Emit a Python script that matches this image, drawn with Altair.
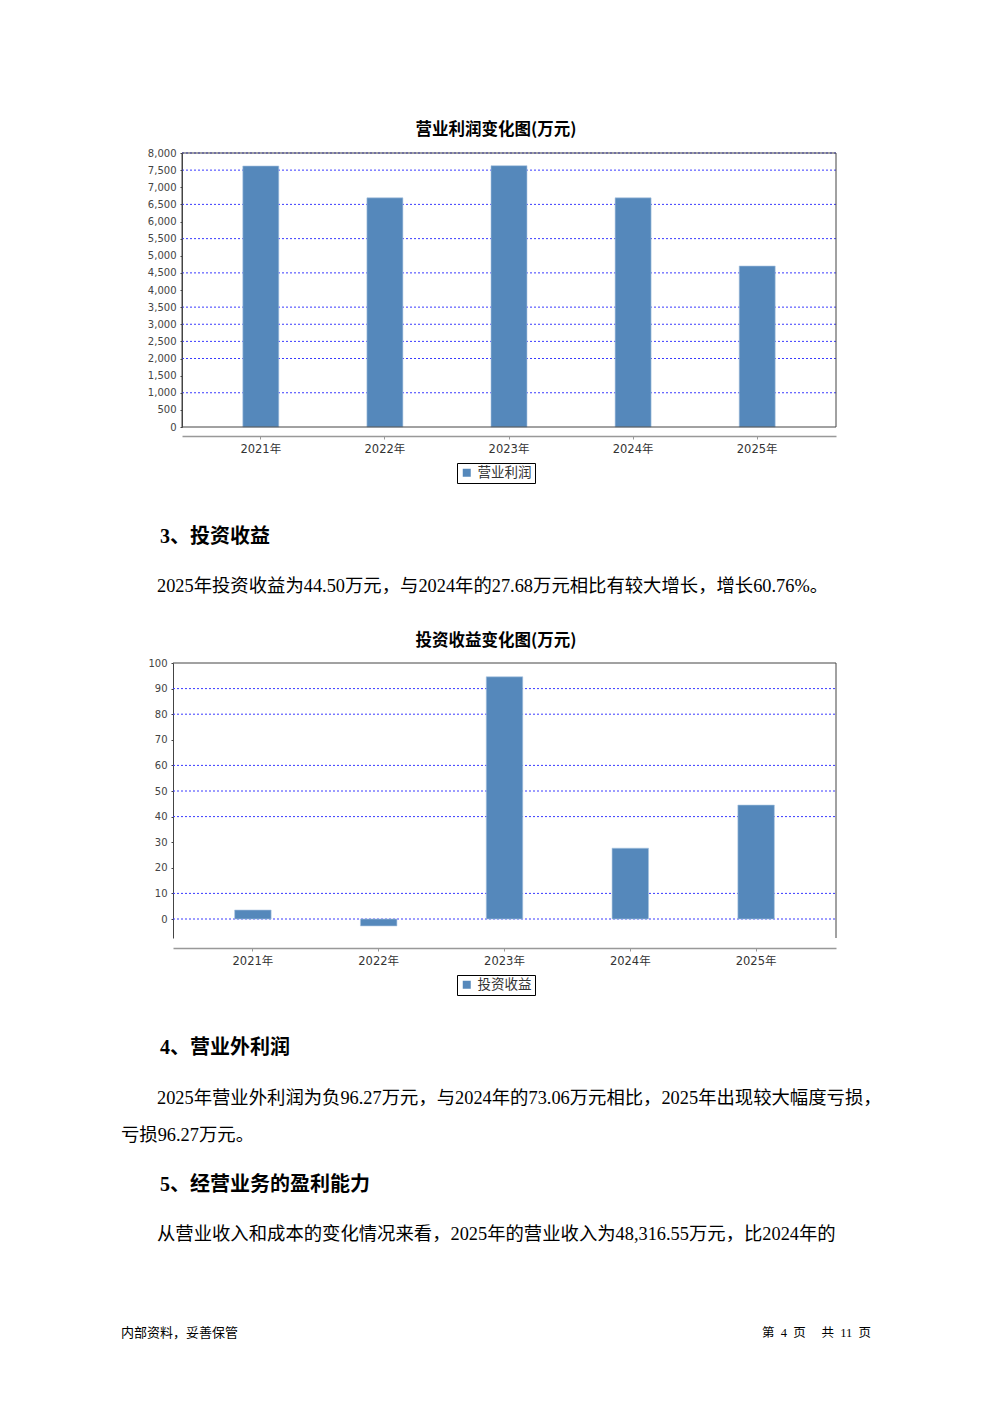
import altair as alt
import pandas as pd

# ---------------- data ----------------
years = ["2021年", "2022年", "2023年", "2024年", "2025年"]
op_profit = [7620, 6690, 7630, 6690, 4700]
inv_income = [3.5, -2.7, 94.6, 27.68, 44.50]
op_ticks = list(range(0, 8001, 500))
op_grid = [8000, 7500, 6500, 5500, 4500, 3500, 3000, 2500, 2000, 1000]
inv_ticks = list(range(0, 101, 10))
inv_grid = [90, 80, 60, 50, 40, 10, 0]
title1 = "营业利润变化图(万元)"
title2 = "投资收益变化图(万元)"
series1 = "营业利润"
series2 = "投资收益"
heading3 = "3、投资收益"
para3 = "2025年投资收益为44.50万元，与2024年的27.68万元相比有较大增长，增长60.76%。"
heading4 = "4、营业外利润"
para4a = "2025年营业外利润为负96.27万元，与2024年的73.06万元相比，2025年出现较大幅度亏损，"
para4b = "亏损96.27万元。"
heading5 = "5、经营业务的盈利能力"
para5 = "从营业收入和成本的变化情况来看，2025年的营业收入为48,316.55万元，比2024年的"
footer_left = "内部资料，妥善保管"
NB = "\u00a0"
footer_right = "第" + NB * 2 + "4" + NB * 2 + "页" + NB * 5 + "共" + NB * 2 + "11" + NB * 2 + "页"

# ---------------- style ----------------
BAR = "#5588bb"
GRID = "#3a3aff"
FRAME = "#444444"
CJK = "'Noto Sans CJK SC'"
SERIF = "'Liberation Serif', 'Noto Sans CJK SC'"
AXFONT = "'DejaVu Sans', 'Noto Sans CJK SC'"


def bar_group(vals, ticks, grid, ydom, yrange, xrange, xoff, yoff, fmt, series, lx, ly):
    df = pd.DataFrame({"year": years, "value": vals, "series": [series] * len(years)})
    gdf = pd.DataFrame({"value": grid})
    xs = alt.Scale(domain=years, range=xrange, paddingInner=0.71, paddingOuter=0.49)
    ys = alt.Scale(domain=ydom, range=yrange, nice=False, zero=False)
    yaxis = alt.Axis(orient="left", offset=yoff, values=ticks, format=fmt, title=None,
                     grid=False, domainColor=FRAME, domainWidth=1, tickColor=FRAME,
                     tickSize=2, labelFontSize=10, labelColor="#444", labelFont=AXFONT,
                     labelPadding=4, labelOverlap=False, labelFlush=False)
    xaxis = alt.Axis(orient="bottom", offset=xoff, title=None, labelAngle=0,
                     domainColor="#999", domainWidth=1.5, tickColor="#999", tickSize=3,
                     labelFontSize=11.5, labelColor="#333", labelFont=AXFONT,
                     labelPadding=4, grid=False)
    gridl = alt.Chart(gdf).mark_rule(color=GRID, strokeDash=[2, 2], strokeWidth=1).encode(
        y=alt.Y("value:Q", scale=ys, axis=yaxis),
        x=alt.value(xrange[0]), x2=alt.value(xrange[1]))
    bars = alt.Chart(df).mark_bar(stroke="#a9c4e0", strokeWidth=0.6).encode(
        x=alt.X("year:N", scale=xs, sort=None, axis=xaxis),
        y=alt.Y("value:Q", scale=ys, axis=yaxis),
        color=alt.Color("series:N", scale=alt.Scale(range=[BAR]),
                        legend=alt.Legend(orient="none", legendX=lx, legendY=ly, title=None,
                                          strokeColor="black", fillColor="white", padding=3,
                                          symbolType="square", symbolSize=64,
                                          symbolStrokeWidth=0, labelFontSize=13.5,
                                          labelColor="#333", labelFont=CJK, labelOffset=4,
                                          cornerRadius=0)))
    return alt.layer(gridl, bars)


def text(s, x, y, size, weight="normal", font=SERIF, align="left", color="black"):
    return alt.Chart(pd.DataFrame({"t": [s]})).mark_text(
        align=align, baseline="middle", fontSize=size, fontWeight=weight, font=font,
        color=color).encode(x=alt.value(x), y=alt.value(y), text="t:N")


one = pd.DataFrame({"k": [0]})

# chart 1 (view coords = page - 8)
g1 = bar_group(op_profit, op_ticks, op_grid, [0, 8000], [419, 145], [174, 828],
               428 - 1387, -174, ",d", series1, 449, 455)
frame1 = alt.Chart(one).mark_rect(filled=False, stroke=FRAME, strokeWidth=1).encode(
    x=alt.value(174), x2=alt.value(828), y=alt.value(145), y2=alt.value(419))

# chart 2
g2 = bar_group(inv_income, inv_ticks, inv_grid, [-7.42, 100], [930, 655], [165, 828],
               940 - 1387, -165, "d", series2, 449, 967)
top2 = alt.Chart(one).mark_rule(color=FRAME, strokeWidth=1).encode(
    x=alt.value(165), x2=alt.value(828), y=alt.value(655))
right2 = alt.Chart(one).mark_rule(color=FRAME, strokeWidth=1).encode(
    x=alt.value(828), y=alt.value(655), y2=alt.value(930))

texts = [
    text(title1, 488, 122, 16.5, "bold", CJK, "center"),
    text(heading3, 152, 529, 20, "bold"),
    text(para3, 149, 578, 18.35),
    text(title2, 488, 633, 16.5, "bold", CJK, "center"),
    text(heading4, 152, 1040, 20, "bold"),
    text(para4a, 149, 1090, 18.35),
    text(para4b, 113, 1127, 18.35),
    text(heading5, 152, 1177, 20, "bold"),
    text(para5, 149, 1226, 18.35),
    text(footer_left, 113, 1325, 13, font=CJK),
    text(footer_right, 863, 1325, 12.5, align="right"),
]

chart = alt.layer(g1, frame1, g2, top2, right2, *texts).resolve_scale(
    x="independent", y="independent", color="independent"
).resolve_legend(color="independent").properties(
    width=976, height=1387, padding=0,
    autosize=alt.AutoSizeParams(type="none"),
).configure_view(stroke=None, fill="white")

chart.save("out.html", embed_options={"renderer": "svg", "actions": False})
